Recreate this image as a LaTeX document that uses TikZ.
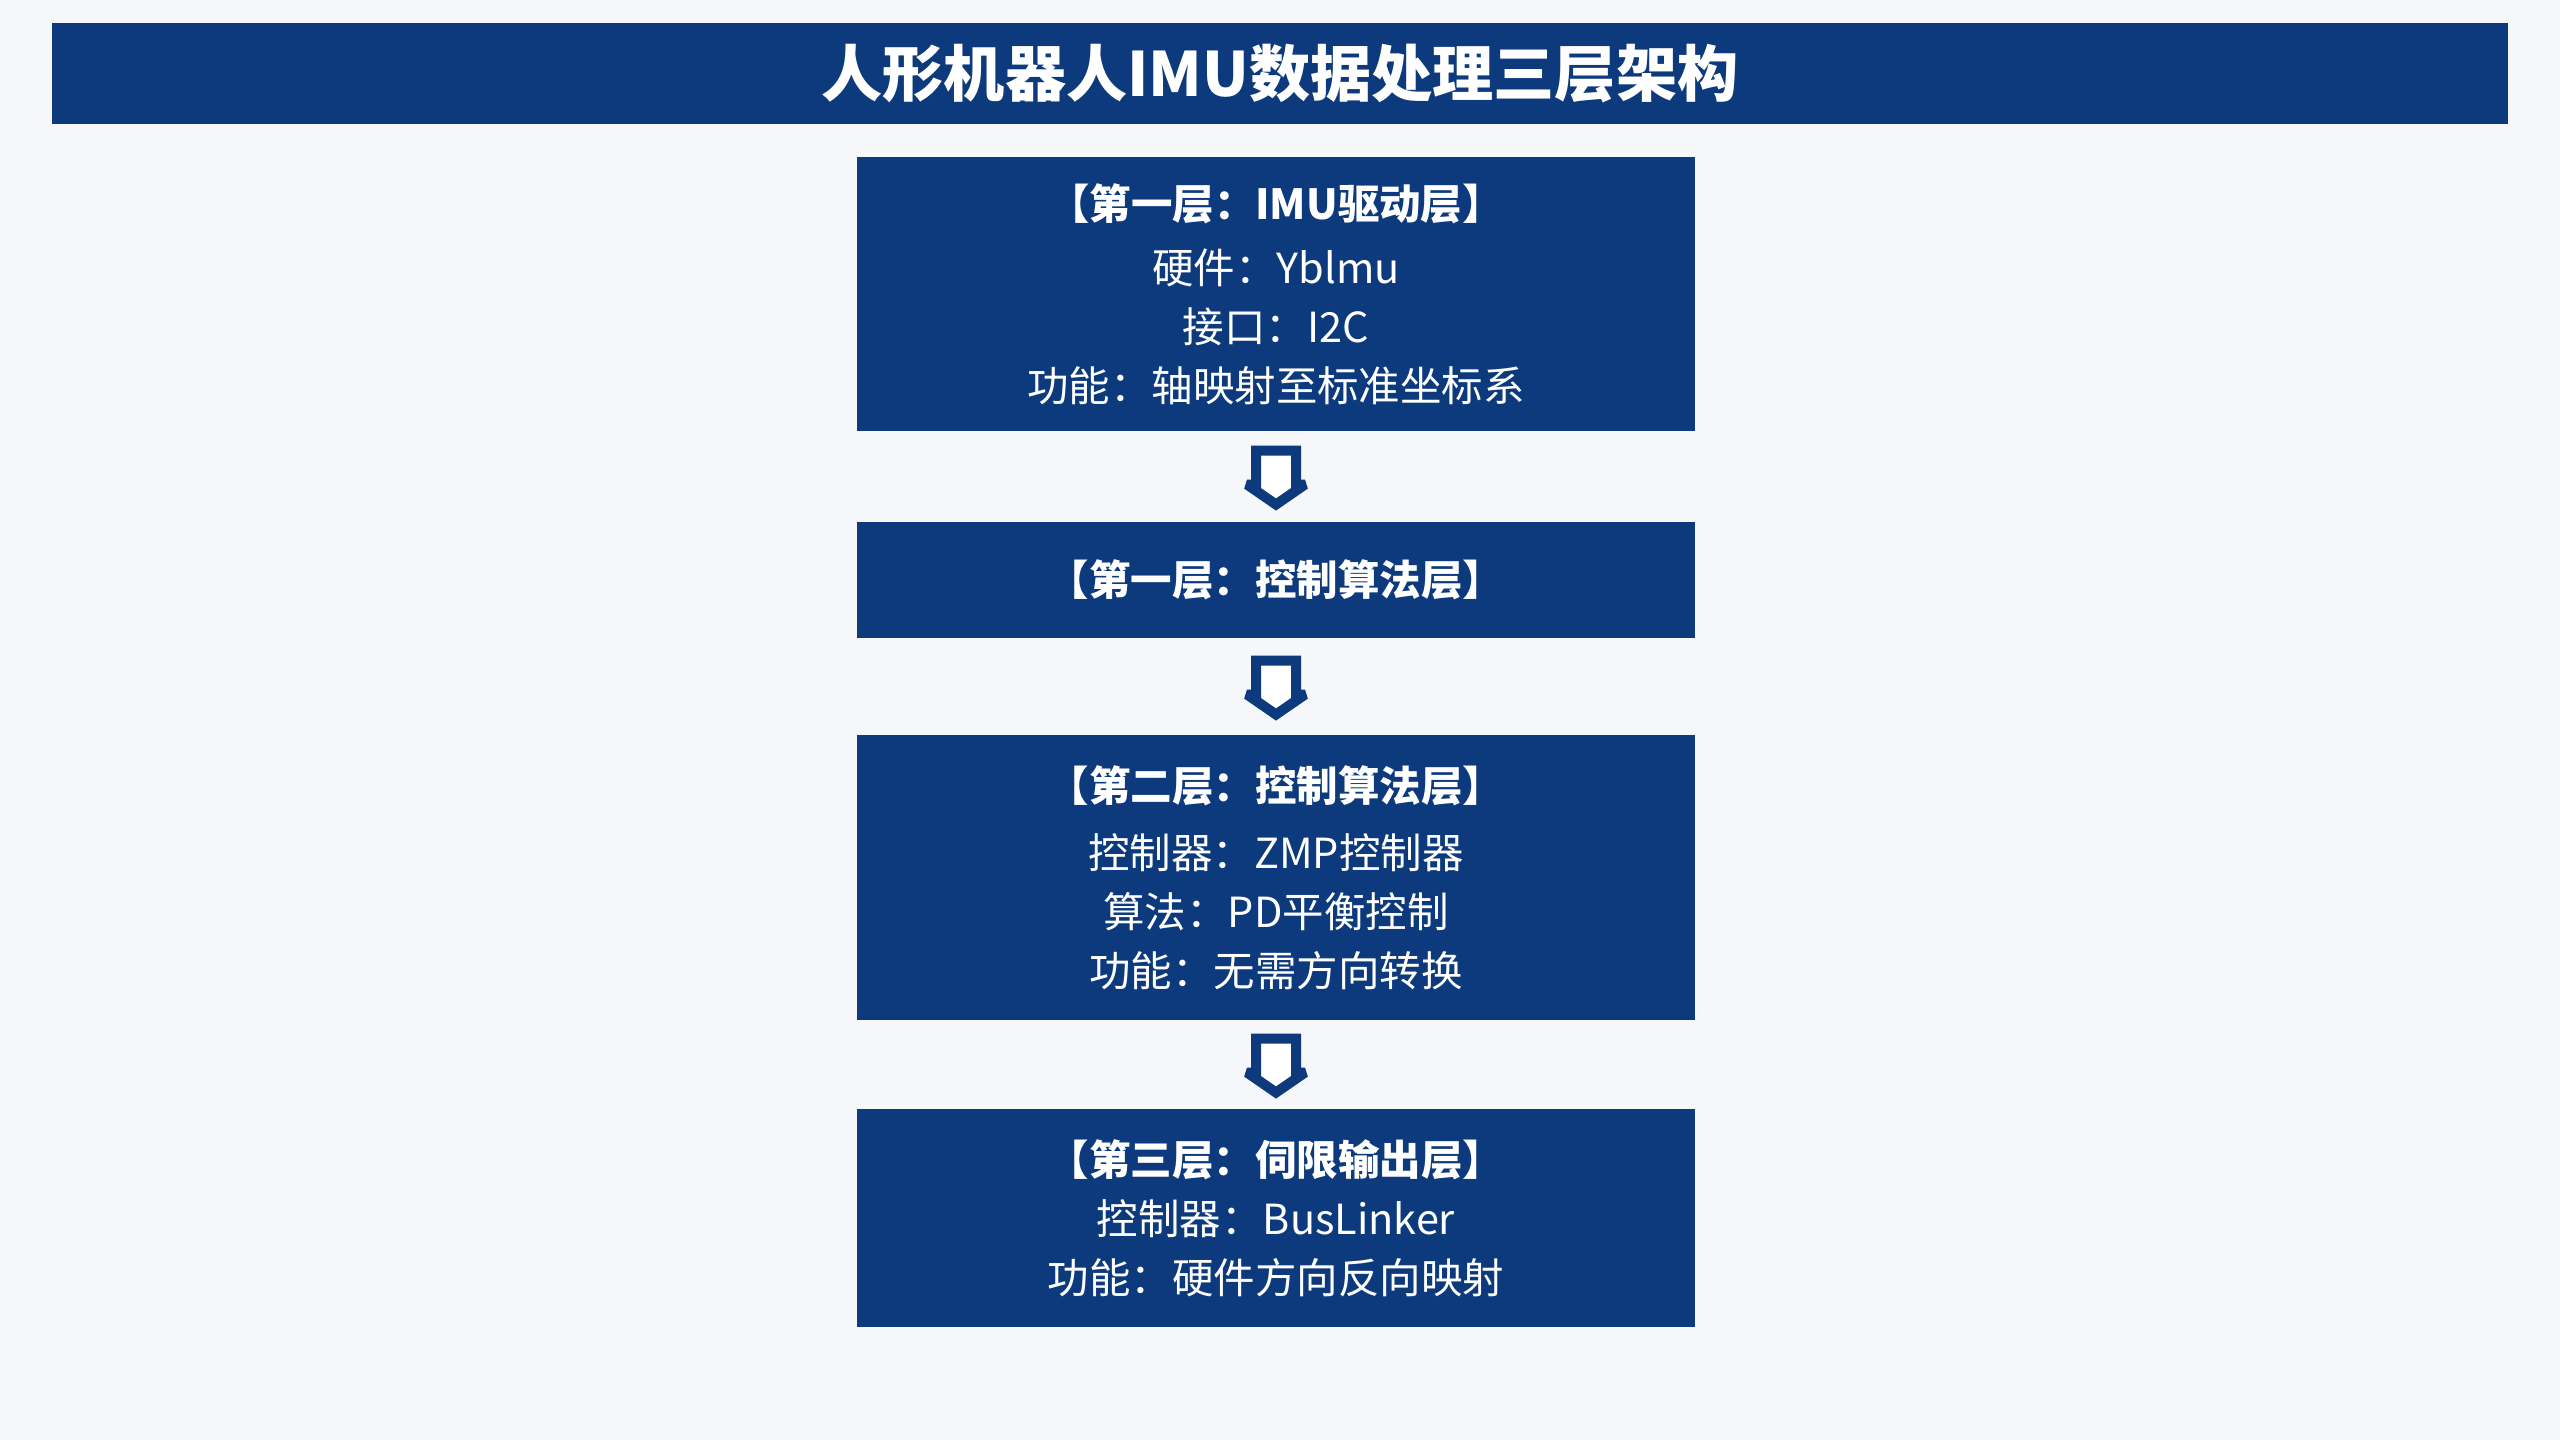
\documentclass[tikz,border=0pt]{standalone}
\usepackage{fontspec}
\setmainfont{Noto Sans CJK SC}
\usepackage{tikz}
\usetikzlibrary{calc}
\definecolor{imublue}{RGB}{12,58,124}
\definecolor{pagebg}{RGB}{245,247,250}
\tikzset{
    titlebar/.style={fill=imublue, text=white, minimum width=24.56cm, minimum height=1.01cm, inner sep=0pt, font=\fontsize{17.4}{20}\selectfont\bfseries},
    layerbox/.style={fill=imublue, text=white, minimum width=8.38cm, inner sep=0pt, align=center, font=\fontsize{11.8}{16.8}\selectfont},
    flowarrow/.style={draw=imublue, fill=white, line width=0.1cm, line join=miter, miter limit=2}}
\newcommand{\layerarrow}[2]{%
    \draw[flowarrow] ($(#1.south)!0.5!(#2.north)$) ++(-0.2,0.26) -- ++(0,-0.34) -- ++(-0.09,0) -- ++(0.29,-0.2) -- ++(0.29,0.2) -- ++(-0.09,0) -- ++(0,0.34) -- cycle;}

\begin{document}
\begin{tikzpicture}

            \fill[pagebg] (0,0) rectangle (25.6,-14.4);

            \node[titlebar] (title) at (12.80,-0.735) {人形机器人IMU数据处理三层架构};

            \node[layerbox, minimum height=2.74cm] (driver) at (12.76,-2.94) {{\bfseries 【第一层：IMU驱动层】}\\[0.05cm] 硬件：Yblmu\\ 接口：I2C\\ 功能：轴映射至标准坐标系};
            \node[layerbox, minimum height=1.16cm] (ctrlA) at (12.76,-5.80) {{\bfseries 【第一层：控制算法层】}};
            \node[layerbox, minimum height=2.85cm] (ctrlB) at (12.76,-8.775) {{\bfseries 【第二层：控制算法层】}\\[0.08cm] 控制器：ZMP控制器\\ 算法：PD平衡控制\\ 功能：无需方向转换};
            \node[layerbox, minimum height=2.18cm] (servo) at (12.76,-12.18) {{\bfseries 【第三层：伺限输出层】}\\ 控制器：BusLinker\\ 功能：硬件方向反向映射};

            \layerarrow{driver}{ctrlA}
            \layerarrow{ctrlA}{ctrlB}
            \layerarrow{ctrlB}{servo}

        \end{tikzpicture}
\end{document}
